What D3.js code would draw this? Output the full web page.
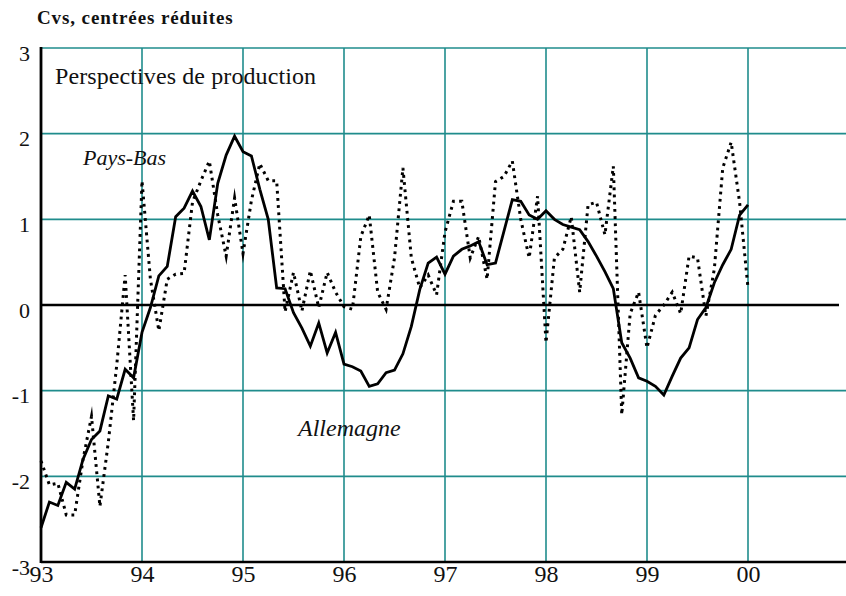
<!DOCTYPE html>
<html>
<head>
<meta charset="utf-8">
<script src="https://cdn.jsdelivr.net/npm/d3@7"></script>
<style>
  html, body { margin: 0; padding: 0; background: #fff; }
  svg { display: block; }
  text { font-family: "Liberation Serif", "Times New Roman", serif; fill: #111; }
</style>
</head>
<body>
<svg id="chart" width="846" height="596"></svg>
<script>
// ---- data ----
const yearLabels = ["93", "94", "95", "96", "97", "98", "99", "00"];
const yTicks = [-3, -2, -1, 0, 1, 2, 3];
const seriesNames = ["Allemagne", "Pays-Bas"];
// monthly values, Jan 1993 .. Jan 2000
const allemagne = [
  -2.60, -2.30, -2.34, -2.07, -2.15, -1.80, -1.57, -1.47, -1.06, -1.10, -0.75, -0.85,
  -0.32, -0.03, 0.34, 0.45, 1.03, 1.13, 1.33, 1.15, 0.76, 1.42, 1.75, 1.97,
  1.79, 1.74, 1.35, 1.00, 0.20, 0.19, -0.09, -0.27, -0.48, -0.21, -0.56, -0.32,
  -0.69, -0.72, -0.77, -0.95, -0.92, -0.79, -0.76, -0.57, -0.25, 0.18, 0.49, 0.56,
  0.36, 0.57, 0.65, 0.69, 0.74, 0.47, 0.49, 0.86, 1.23, 1.21, 1.05, 1.00,
  1.10, 1.00, 0.94, 0.91, 0.88, 0.74, 0.57, 0.39, 0.19, -0.44, -0.62, -0.85,
  -0.89, -0.95, -1.05, -0.83, -0.62, -0.50, -0.17, -0.03, 0.26, 0.47, 0.65, 1.05,
  1.17
];
const paysBas = [
  -1.82, -2.10, -2.08, -2.45, -2.45, -1.80, -1.30, -2.35, -1.60, -0.70, 0.35, -1.35,
  1.45, 0.30, -0.30, 0.30, 0.36, 0.37, 1.20, 1.45, 1.68, 1.05, 0.57, 1.25,
  0.60, 1.22, 1.65, 1.45, 1.45, -0.08, 0.38, -0.07, 0.40, -0.03, 0.38, 0.15,
  -0.02, -0.05, 0.80, 1.05, 0.15, -0.05, 0.55, 1.60, 0.55, 0.20, 0.35, 0.12,
  0.85, 1.21, 1.21, 0.55, 0.80, 0.30, 1.44, 1.50, 1.68, 1.00, 0.55, 1.27,
  -0.44, 0.55, 0.65, 1.03, 0.15, 1.17, 1.20, 0.82, 1.62, -1.28, -0.10, 0.15,
  -0.50, -0.12, 0.00, 0.15, -0.10, 0.57, 0.55, -0.13, 0.42, 1.60, 1.90, 1.20,
  0.20
];

// ---- layout ----
const svg = d3.select("#chart");
const teal = "#1f8c8c";
const x = d3.scaleLinear().domain([0, 96]).range([41, 849]);
const y = d3.scaleLinear().domain([-3, 3]).range([562, 48]);

// horizontal gridlines
svg.append("g").selectAll("line")
  .data(yTicks.filter(d => d !== 0 && d !== -3))
  .join("line")
  .attr("x1", x(0)).attr("x2", 846)
  .attr("y1", d => y(d)).attr("y2", d => y(d))
  .attr("stroke", teal).attr("stroke-width", 1.6);

// vertical gridlines
svg.append("g").selectAll("line")
  .data(yearLabels.slice(1).map((_, i) => (i + 1) * 12))
  .join("line")
  .attr("x1", d => x(d)).attr("x2", d => x(d))
  .attr("y1", y(3)).attr("y2", y(-3))
  .attr("stroke", teal).attr("stroke-width", 1.6);

// zero line
svg.append("line")
  .attr("x1", x(0)).attr("x2", 839)
  .attr("y1", y(0)).attr("y2", y(0))
  .attr("stroke", "#000").attr("stroke-width", 2.6);

// axes frame
svg.append("line").attr("x1", x(0)).attr("x2", 846).attr("y1", y(-3)).attr("y2", y(-3))
  .attr("stroke", "#000").attr("stroke-width", 2.4);
svg.append("line").attr("x1", x(0)).attr("x2", x(0)).attr("y1", y(3) - 1).attr("y2", y(-3) + 1)
  .attr("stroke", "#000").attr("stroke-width", 2.8);

// y axis labels
const yAxis = d3.axisLeft(y).tickValues(yTicks).tickSize(0).tickPadding(11)
  .tickFormat(d => d < 0 ? "-" + Math.abs(d) : String(d));
const gy = svg.append("g").attr("transform", `translate(${x(0)},0)`).call(yAxis);
gy.select(".domain").remove();
gy.selectAll("text").attr("font-size", 22).attr("font-family", "Liberation Serif")
  .attr("fill", "#111").attr("dy", "0.55em");

// x axis labels
const xAxis = d3.axisBottom(x).tickValues(yearLabels.map((_, i) => i * 12)).tickSize(0).tickPadding(3)
  .tickFormat((d, i) => yearLabels[i]);
const gx = svg.append("g").attr("transform", `translate(0,${y(-3)})`).call(xAxis);
gx.select(".domain").remove();
gx.selectAll("text").attr("font-size", 24).attr("font-family", "Liberation Serif").attr("fill", "#111");

// lines
const line = d3.line().x((d, i) => x(i)).y(d => y(d));
svg.append("path").datum(paysBas).attr("d", line)
  .attr("fill", "none").attr("stroke", "#000").attr("stroke-width", 3)
  .attr("stroke-dasharray", "2.8,4.4").attr("stroke-linejoin", "miter").attr("stroke-miterlimit", 8);
svg.append("path").datum(allemagne).attr("d", line)
  .attr("fill", "none").attr("stroke", "#000").attr("stroke-width", 2.8)
  .attr("stroke-linejoin", "miter").attr("stroke-miterlimit", 4);

// texts
svg.append("text").attr("x", 37).attr("y", 24).attr("font-size", 19).attr("font-weight", "bold")
  .attr("letter-spacing", 0.9)
  .text("Cvs, centrées réduites");
svg.append("text").attr("x", 55).attr("y", 84).attr("font-size", 24)
  .attr("letter-spacing", 0.1)
  .text("Perspectives de production");
svg.append("text").attr("x", 83).attr("y", 165).attr("font-size", 22).attr("font-style", "italic")
  .text(seriesNames[1]);
svg.append("text").attr("x", 298).attr("y", 436).attr("font-size", 24).attr("font-style", "italic")
  .text(seriesNames[0]);
</script>
</body>
</html>
